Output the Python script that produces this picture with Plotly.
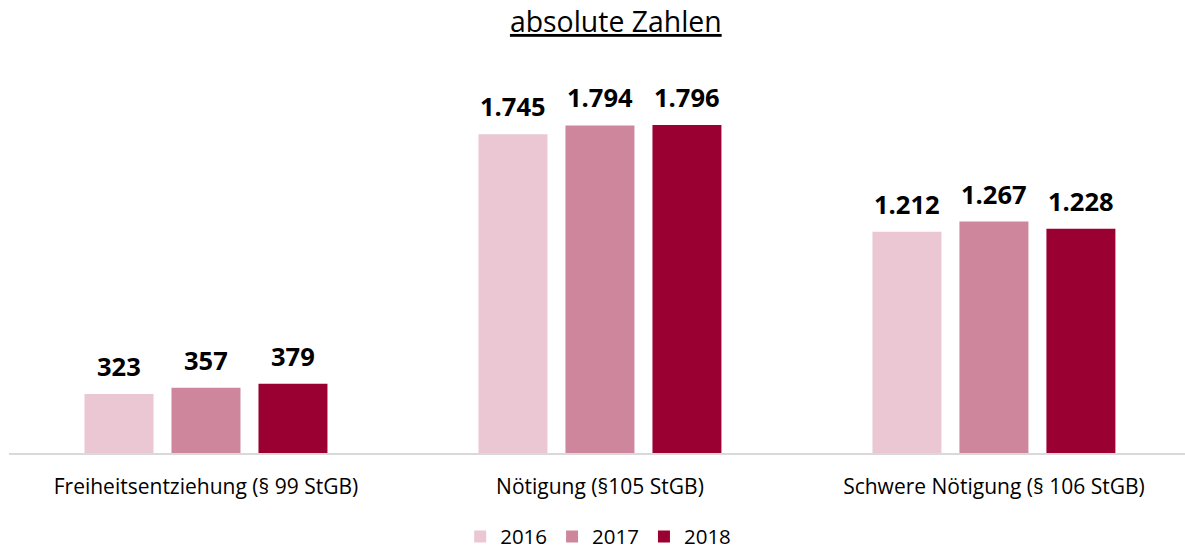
import plotly.graph_objects as go

# Fälle nach Delikt und Jahr
categories = ["Freiheitsentziehung (§ 99 StGB)", "Nötigung (§105 StGB)", "Schwere Nötigung (§ 106 StGB)"]
years = ["2016", "2017", "2018"]
values_2016 = [323, 1745, 1212]
values_2017 = [357, 1794, 1267]
values_2018 = [379, 1796, 1228]
series_values = [values_2016, values_2017, values_2018]
colors = ["#EBC7D3", "#CD869C", "#9B0033"]

FONT = "'Open Sans', sans-serif"

fig = go.Figure()
for year, vals, col in zip(years, series_values, colors):
    fig.add_trace(go.Bar(
        name=year, x=categories, y=vals,
        marker=dict(color=col, line=dict(width=0)),
        hoverinfo="x+y+name",
    ))

# value labels above each bar, German thousands separator
slot_px = 87
for i, vals in enumerate(series_values):
    for cat, v in zip(categories, vals):
        fig.add_annotation(
            x=cat, y=v, xref="x", yref="y",
            text=f"<b>{v:,}</b>".replace(",", "."),
            showarrow=False, xanchor="center", yanchor="bottom",
            xshift=(i - 1) * slot_px, yshift=9,
            font=dict(family=FONT, size=25.5, color="#000000"),
        )

fig.update_layout(
    width=1185, height=551,
    margin=dict(l=9, r=0, t=60, b=98, autoexpand=False),
    paper_bgcolor="white", plot_bgcolor="white",
    barmode="group", bargap=0.3376, bargroupgap=0.207,
    title=dict(
        text="<u>absolute Zahlen</u>", x=0.516, xanchor="center",
        xref="paper", y=0.96, yref="container", yanchor="middle",
        font=dict(family=FONT, size=28.4, color="#000000"),
    ),
    font=dict(family=FONT, color="#000000"),
    showlegend=True,
    legend=dict(
        orientation="h", x=0.501, xanchor="center",
        yref="container", y=0.026, yanchor="middle",
        font=dict(family=FONT, size=20.5, color="#000000"),
        itemwidth=30, traceorder="normal",
    ),
    xaxis=dict(
        type="category", range=[-0.5, 2.485], automargin=False,
        showline=True, linecolor="#D9D9D9", linewidth=2,
        showgrid=False, zeroline=False,
        ticks="outside", ticklen=14, tickcolor="rgba(0,0,0,0)",
        tickfont=dict(family=FONT, size=21, color="#000000"),
    ),
    yaxis=dict(
        range=[0, 2152], visible=False, showgrid=False, zeroline=False,
        automargin=False,
    ),
)

fig.write_html("out.html")
